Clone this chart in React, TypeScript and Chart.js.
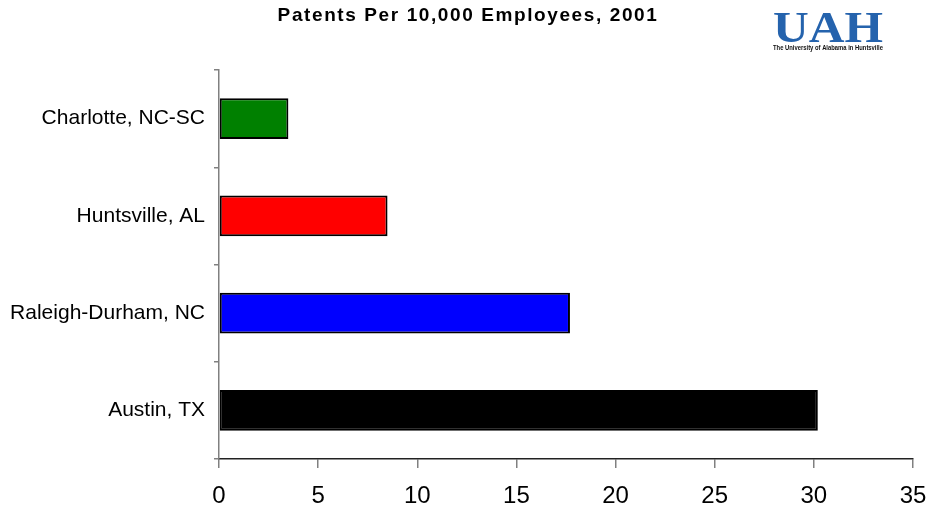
import React, { useEffect, useRef } from "react";
import { Chart, registerables } from "chart.js";

Chart.register(...registerables);

const categories = ["Charlotte, NC-SC", "Huntsville, AL", "Raleigh-Durham, NC", "Austin, TX"];
const values = [3.5, 8.5, 17.7, 30.2];
const barColors = ["#008000", "#ff0000", "#0000ff", "#000000"];
const titleText = "Patents Per 10,000 Employees, 2001";
const logoText = "UAH";
const logoSubText = "The University of Alabama in Huntsville";
const xMin = 0;
const xMax = 35;
const xStep = 5;

const overlayPlugin = {
  id: "overlay",
  afterDraw(chart: any) {
    const ctx = chart.ctx as CanvasRenderingContext2D;
    ctx.save();
    // Title
    ctx.fillStyle = "#000";
    ctx.font = "bold 19px Arial, 'Liberation Sans', sans-serif";
    (ctx as any).letterSpacing = "1.6px";
    ctx.textAlign = "center";
    ctx.textBaseline = "middle";
    ctx.fillText(titleText, 468, 16);
    (ctx as any).letterSpacing = "0px";

    // Logo
    ctx.textAlign = "left";
    ctx.textBaseline = "alphabetic";
    ctx.font = "bold 44px 'Liberation Serif', 'Times New Roman', serif";
    const w = ctx.measureText(logoText).width;
    ctx.save();
    ctx.translate(773, 42);
    ctx.scale(110 / w, 1);
    ctx.fillStyle = "#2563ad";
    ctx.fillText(logoText, 0, 0);
    ctx.restore();

    ctx.font = "bold 6px Arial, 'Liberation Sans', sans-serif";
    const w2 = ctx.measureText(logoSubText).width;
    ctx.save();
    ctx.translate(773, 50);
    ctx.scale(110 / w2, 1.1);
    ctx.fillStyle = "#111";
    ctx.fillText(logoSubText, 0, 0);
    ctx.restore();

    ctx.restore();
  },
};

export default function App() {
  const ref = useRef<HTMLCanvasElement>(null);
  useEffect(() => {
    if (!ref.current) return;
    const chart = new Chart(ref.current, {
      type: "bar",
      data: {
        labels: categories,
        datasets: [
          {
            data: values,
            backgroundColor: barColors,
            borderColor: "#000",
            borderWidth: 2,
            borderSkipped: false,
            barPercentage: 0.42,
            categoryPercentage: 1,
          },
        ],
      },
      options: {
        indexAxis: "y",
        animation: false,
        responsive: false,
        devicePixelRatio: 1,
        layout: { padding: { top: 70, right: 17, left: 0, bottom: 0 } },
        plugins: {
          legend: { display: false },
          title: { display: false },
          tooltip: { enabled: false },
        },
        scales: {
          x: {
            type: "linear",
            min: xMin,
            max: xMax,
            ticks: {
              stepSize: xStep,
              color: "#000",
              font: { family: "Arial, 'Liberation Sans', sans-serif", size: 24 },
              padding: 14,
              maxRotation: 0,
            },
            grid: {
              drawOnChartArea: false,
              drawTicks: true,
              tickLength: 9,
              color: "#808080",
              lineWidth: 1.5,
            },
            border: { color: "#222", width: 1.5 },
            afterFit(scale: any) {
              scale.height = 51;
              scale.paddingLeft = 0;
              scale.paddingRight = 0;
            },
          },
          y: {
            ticks: {
              color: "#000",
              font: { family: "Arial, 'Liberation Sans', sans-serif", size: 21 },
              padding: 9,
            },
            grid: {
              drawOnChartArea: false,
              drawTicks: true,
              tickLength: 5,
              color: "#808080",
              lineWidth: 1.5,
              offset: true,
            },
            border: { color: "#808080", width: 1.5 },
            afterFit(scale: any) {
              scale.width = 219;
              scale.paddingTop = 0;
              scale.paddingBottom = 0;
            },
          },
        },
      },
      plugins: [overlayPlugin],
    });
    return () => chart.destroy();
  }, []);
  return (
    <div style={{ position: "absolute", left: 0, top: 0, width: 930, height: 510, background: "#fff" }}>
      <canvas ref={ref} width={930} height={510} style={{ display: "block" }} />
    </div>
  );
}
